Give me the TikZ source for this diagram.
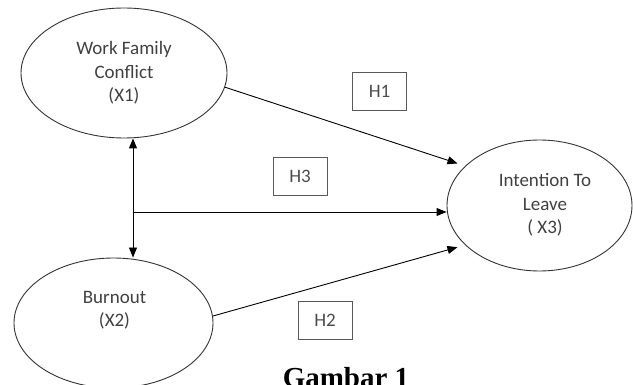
\documentclass[tikz,border=0pt]{standalone}
\usepackage{fontspec}
\setmainfont{Liberation Serif}
\newfontfamily\calib{Carlito}
\usetikzlibrary{arrows.meta,shapes.geometric}
\begin{document}
\begin{tikzpicture}[x=1pt,y=-1pt,
 latent/.style={draw=black!80,line width=0.9pt,ellipse,inner sep=0pt},
 ltext/.style={font=\calib\fontsize{19}{23.5}\selectfont,text=black!75,align=center},
 hbox/.style={draw=black!65,line width=0.9pt,minimum width=54pt,minimum height=38pt,inner sep=0pt,font=\calib\fontsize{19}{23}\selectfont,text=black!70},
 tip/.style={Triangle[length=10pt,width=8pt]},
 link/.style={draw=black,line width=0.9pt,-{Triangle[length=10pt,width=8pt]}}]
\useasboundingbox (0,0) rectangle (633,385);
\clip (0,0) rectangle (633,385);
\node[latent,ltext,minimum width=206pt,minimum height=130pt] (E1) at (124,73) {Work Family\\Conflict\\(X1)};
\node[latent,minimum width=199pt,minimum height=130pt] (E2) at (113.5,323) {};
\node[ltext] (E2t) at (114.5,310) {Burnout\\(X2)};
\node[latent,minimum width=185pt,minimum height=131pt] (E3) at (539.5,205.5) {};
\node[ltext] (E3t) at (545,205) {Intention To\\Leave\\( X3)};
\node[hbox] (h1) at (379.5,91) {H1};
\node[hbox] (h3) at (300,176) {H3};
\node[hbox] (h2) at (325,320) {H2};
\coordinate (vx) at (133,212);
\draw[line width=0.9pt,{Triangle[length=10pt,width=8pt]}-{Triangle[length=10pt,width=8pt]}] (E1.south -| vx) -- (E2.north -| vx);
\draw[link] (vx) -- (vx -| E3.west);
\draw[link,shorten >=8pt] (E1.-8) -- (E3.152);
\draw[link,shorten >=8pt] (E2.4) -- (E3.208);
\node[font=\bfseries\fontsize{29}{30}\selectfont,anchor=base] (cap) at (346,387.5) {Gambar 1};
\end{tikzpicture}
\end{document}
